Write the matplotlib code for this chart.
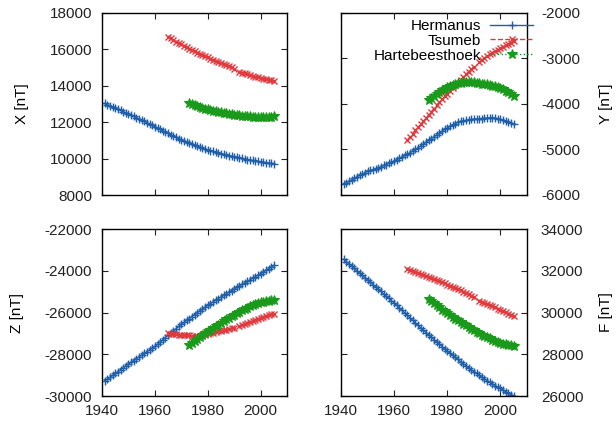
"""Geomagnetic field components at three southern African observatories."""

import matplotlib
matplotlib.use("Agg")
import matplotlib.pyplot as plt
import numpy as np

plt.rcParams["font.family"] = ["Liberation Sans", "DejaVu Sans"]
plt.rcParams["font.size"] = 11
plt.rcParams["axes.unicode_minus"] = False

nan = np.nan

# years of annual means
years_her = np.arange(1941, 2006)
years_tsu = np.arange(1965, 2006)
years_hbk = np.arange(1973, 2006)

# Hermanus
her_x = [13030, 12970, 12910, 12850, 12780, 12710, 12650, 12580, 12520, 12450,
         12390, 12320, 12250, 12190, 12120, 12050, 11980, 11900, 11830, 11760,
         11680, 11610, 11530, 11460, 11380, 11310, 11240, 11170, 11100, 11030,
         10970, 10910, 10850, 10790, 10740, 10690, 10630, 10580, 10530, 10480,
         10440, 10400, 10360, 10320, 10280, 10240, 10210, 10170, 10140, 10100,
         10070, 10040, 10010, 9980, 9950, 9920, 9900, 9870, 9850, 9820,
         9800, 9780, 9760, 9740, 9720]
her_y = [-5760, -5730, -5700, -5670, -5630, -5600, -5570, -5540, -5510, -5480,
         -5460, -5440, -5420, -5400, -5380, -5350, -5330, -5300, -5280, -5250,
         -5220, -5190, -5160, -5130, -5100, -5070, -5030, -5000, -4960, -4920,
         -4880, -4840, -4800, -4760, -4720, -4680, -4640, -4600, -4560, -4530,
         -4490, -4460, -4430, -4400, -4380, -4370, -4360, -4350, -4340, -4330,
         -4330, -4320, -4320, -4310, -4310, -4300, -4300, -4310, -4320, -4340,
         -4360, -4380, -4400, -4420, -4450]
her_z = [-29280, -29190, -29100, -29010, -28920, -28830, -28740, -28650, -28560, -28460,
         -28380, -28300, -28210, -28130, -28040, -27960, -27870, -27790, -27700, -27620,
         -27520, -27410, -27310, -27200, -27100, -26990, -26880, -26780, -26670, -26560,
         -26470, -26380, -26290, -26200, -26100, -26010, -25920, -25830, -25740, -25650,
         -25570, -25490, -25410, -25330, -25260, -25180, -25100, -25020, -24950, -24870,
         -24800, -24720, -24650, -24580, -24510, -24430, -24360, -24290, -24210, -24140,
         -24060, -23980, -23900, -23820, -23740]
her_f = [32550, 32440, 32330, 32220, 32110, 32000, 31890, 31780, 31670, 31560,
         31450, 31340, 31230, 31120, 31010, 30900, 30790, 30680, 30570, 30460,
         30340, 30220, 30100, 29980, 29860, 29740, 29620, 29500, 29380, 29260,
         29150, 29040, 28930, 28820, 28700, 28590, 28480, 28370, 28260, 28150,
         28050, 27950, 27850, 27750, 27650, 27550, 27450, 27350, 27260, 27170,
         27080, 26990, 26900, 26820, 26740, 26660, 26580, 26500, 26430, 26360,
         26280, 26210, 26140, 26070, 26000]

# Tsumeb (no value for 1991)
tsu_x = [16700, 16610, 16520, 16430, 16350, 16270, 16190, 16110, 16030, 15960,
         15890, 15820, 15750, 15680, 15620, 15560, 15490, 15430, 15370, 15310,
         15250, 15190, 15130, 15070, 15010, 14940, nan, 14780, 14730, 14680,
         14630, 14580, 14540, 14500, 14460, 14430, 14400, 14370, 14340, 14310,
         14290]
tsu_y = [-4790, -4720, -4650, -4580, -4510, -4450, -4380, -4310, -4240, -4170,
         -4100, -4030, -3960, -3900, -3830, -3770, -3710, -3650, -3590, -3530,
         -3470, -3410, -3350, -3290, -3240, -3180, nan, -3080, -3030, -2990,
         -2950, -2910, -2870, -2840, -2810, -2780, -2750, -2710, -2680, -2650,
         -2620]
tsu_z = [-26990, -27010, -27030, -27050, -27060, -27070, -27080, -27090, -27100, -27110,
         -27115, -27120, -27110, -27090, -27060, -27030, -27000, -26970, -26940, -26910,
         -26880, -26850, -26820, -26790, -26760, -26730, nan, -26640, -26590, -26540,
         -26490, -26440, -26390, -26340, -26290, -26240, -26200, -26160, -26120, -26080,
         -26050]
tsu_f = [32080, 32030, 31980, 31930, 31880, 31830, 31780, 31730, 31690, 31640,
         31590, 31540, 31490, 31440, 31390, 31340, 31290, 31240, 31180, 31120,
         31060, 31000, 30940, 30880, 30810, 30750, nan, 30560, 30500, 30450,
         30390, 30340, 30290, 30240, 30180, 30120, 30060, 30010, 29950, 29900,
         29850]

# Hartebeesthoek
hbk_x = [13030, 12980, 12930, 12880, 12840, 12790, 12750, 12710, 12680, 12640,
         12610, 12580, 12550, 12520, 12490, 12470, 12440, 12420, 12400, 12380,
         12360, 12350, 12330, 12320, 12310, 12300, 12300, 12290, 12290, 12300,
         12300, 12310, 12320]
hbk_y = [-3920, -3870, -3820, -3770, -3730, -3700, -3660, -3630, -3600, -3580,
         -3560, -3540, -3530, -3520, -3515, -3515, -3520, -3525, -3530, -3540,
         -3550, -3555, -3565, -3580, -3595, -3610, -3630, -3655, -3680, -3710,
         -3745, -3780, -3820]
hbk_z = [-27550, -27450, -27350, -27260, -27170, -27080, -26990, -26910, -26830, -26740,
         -26660, -26580, -26490, -26410, -26330, -26250, -26170, -26100, -26030, -25960,
         -25890, -25830, -25770, -25710, -25660, -25610, -25560, -25520, -25490, -25460,
         -25430, -25410, -25390]
hbk_f = [30650, 30550, 30440, 30340, 30240, 30140, 30050, 29960, 29870, 29780,
         29700, 29620, 29540, 29460, 29380, 29300, 29220, 29150, 29080, 29010,
         28940, 28880, 28820, 28760, 28700, 28650, 28600, 28550, 28510, 28470,
         28440, 28420, 28400]

stations = ["Hermanus", "Tsumeb", "Hartebeesthoek"]
colors = ["#1f5ea8", "#e0393e", "#1a9a1a"]
styles = [dict(ls="-", marker="+", ms=6, mew=1.0),
          dict(ls="--", marker="x", ms=5, mew=1.0),
          dict(ls=":", marker="*", ms=7, mew=0.8)]

panels = [
    ("X [nT]", (her_x, tsu_x, hbk_x), (8000, 18000), range(8000, 18001, 2000), "left"),
    ("Y [nT]", (her_y, tsu_y, hbk_y), (-6000, -2000), range(-6000, -1999, 1000), "right"),
    ("Z [nT]", (her_z, tsu_z, hbk_z), (-30000, -22000), range(-30000, -21999, 2000), "left"),
    ("F [nT]", (her_f, tsu_f, hbk_f), (26000, 34000), range(26000, 34001, 2000), "right"),
]

# axes boxes in figure fractions (left, bottom, width, height)
W, H = 616, 423
boxes = [
    (102 / W, 1 - 195 / H, 185 / W, 182 / H),
    (341 / W, 1 - 195 / H, 186 / W, 182 / H),
    (102 / W, 1 - 396 / H, 185 / W, 167 / H),
    (341 / W, 1 - 396 / H, 186 / W, 167 / H),
]

fig = plt.figure(figsize=(W / 100, H / 100), dpi=100)

handles = []
for i, (label, series, ylim, yticks, side) in enumerate(panels):
    ax = fig.add_axes(boxes[i])
    yrs = (years_her, years_tsu, years_hbk)
    for j in range(3):
        h, = ax.plot(yrs[j], series[j], color=colors[j], lw=1.0,
                     label=stations[j], **styles[j])
        if i == 1:
            handles.append(h)

    ax.set_xlim(1940, 2010)
    ax.set_ylim(*ylim)
    ax.set_xticks([1940, 1960, 1980, 2000])
    ax.set_yticks(list(yticks))
    ax.tick_params(direction="in", length=4, width=0.8, top=True, right=True,
                   labelsize=11, colors="#222222")
    ax.tick_params(axis="x", pad=6)
    if i < 2:
        ax.tick_params(labelbottom=False)
    if side == "right":
        ax.tick_params(labelleft=False, labelright=True, pad=10, axis="y")
        # right-hand labels sit at the same x for both panels
        fig.text(606 / W, boxes[i][1] + boxes[i][3] / 2, label, rotation=90,
                 ha="center", va="center", fontsize=11)
    else:
        ax.tick_params(axis="y", pad=7)
        ax.set_ylabel(label, labelpad=15)
    for sp in ax.spines.values():
        sp.set_linewidth(1.0)

leg = fig.legend(handles=handles, loc="upper right",
                 bbox_to_anchor=(533 / W, 1 - 19 / H),
                 bbox_transform=fig.transFigure, frameon=False,
                 markerfirst=False, handlelength=2.8, handletextpad=0.6,
                 labelspacing=0.05, borderpad=0, borderaxespad=0,
                 fontsize=11)

fig.savefig("out.png", dpi=100)
